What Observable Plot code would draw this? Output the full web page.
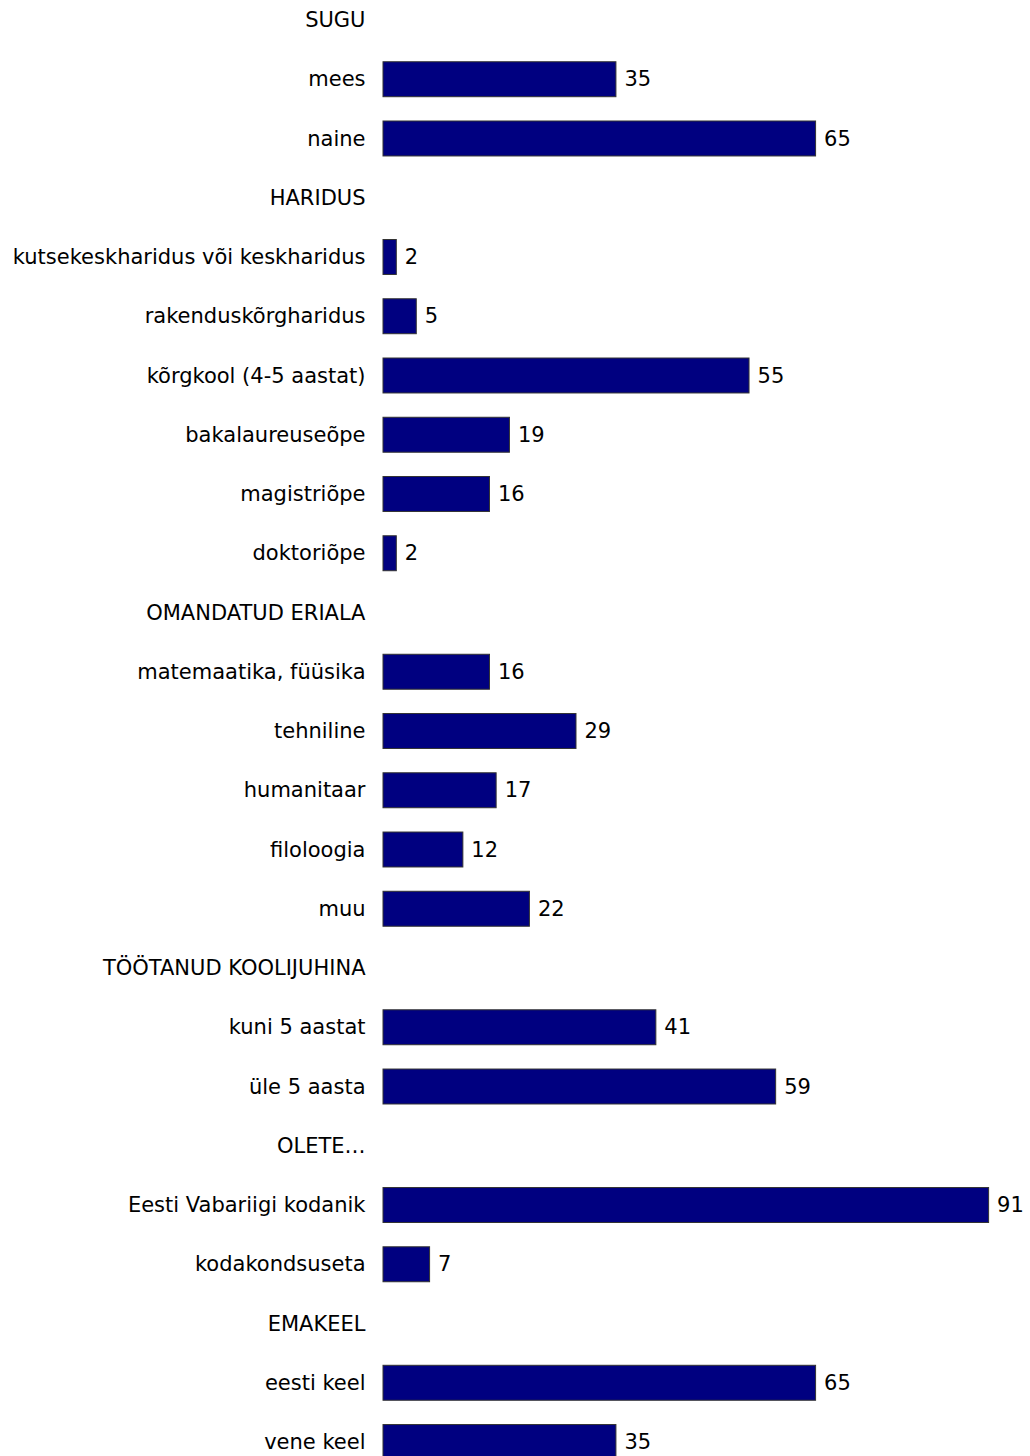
<!DOCTYPE html>
<html><head><meta charset="utf-8">
<script src="https://cdn.jsdelivr.net/npm/d3@7"></script>
<script src="https://cdn.jsdelivr.net/npm/@observablehq/plot@0.6"></script>
<style>html,body{margin:0;padding:0;background:#fff;overflow:hidden}</style>
</head><body><div id="chart"></div>
<script>
const categories = [
  "SUGU", "mees", "naine",
  "HARIDUS", "kutsekeskharidus või keskharidus", "rakenduskõrgharidus", "kõrgkool (4-5 aastat)", "bakalaureuseõpe", "magistriõpe", "doktoriõpe",
  "OMANDATUD ERIALA", "matemaatika, füüsika", "tehniline", "humanitaar", "filoloogia", "muu",
  "TÖÖTANUD KOOLIJUHINA", "kuni 5 aastat", "üle 5 aasta",
  "OLETE…", "Eesti Vabariigi kodanik", "kodakondsuseta",
  "EMAKEEL", "eesti keel", "vene keel"
];
const values = [
  null, 35, 65,
  null, 2, 5, 55, 19, 16, 2,
  null, 16, 29, 17, 12, 22,
  null, 41, 59,
  null, 91, 7,
  null, 65, 35
];
const rows = categories.map((c, i) => ({label: c, value: values[i]}));
const bars = rows.filter(d => d.value != null);

const chart = Plot.plot({
  width: 1030,
  height: 1456,
  marginLeft: 383, marginRight: 0, marginTop: 0, marginBottom: 0,
  style: {fontFamily: "'DejaVu Sans', Verdana, sans-serif", fontSize: "21px", color: "#000", background: "#fff"},
  x: {domain: [0, 100], range: [383, 1048.5], axis: null},
  y: {domain: categories, range: [2.5, 1459.5], paddingInner: 0.41, paddingOuter: 0, round: false, axis: null},
  marks: [
    Plot.axisY({tickSize: 0, tickPadding: 18, label: null, fontSize: 21}),
    Plot.barX(bars, {x: "value", y: "label", fill: "#000080", stroke: "#333", strokeWidth: 1}),
    Plot.text(bars, {x: "value", y: "label", text: d => String(d.value), textAnchor: "start", dx: 8, fill: "#000", fontSize: 21})
  ]
});
document.getElementById("chart").append(chart);
</script>
</body></html>
